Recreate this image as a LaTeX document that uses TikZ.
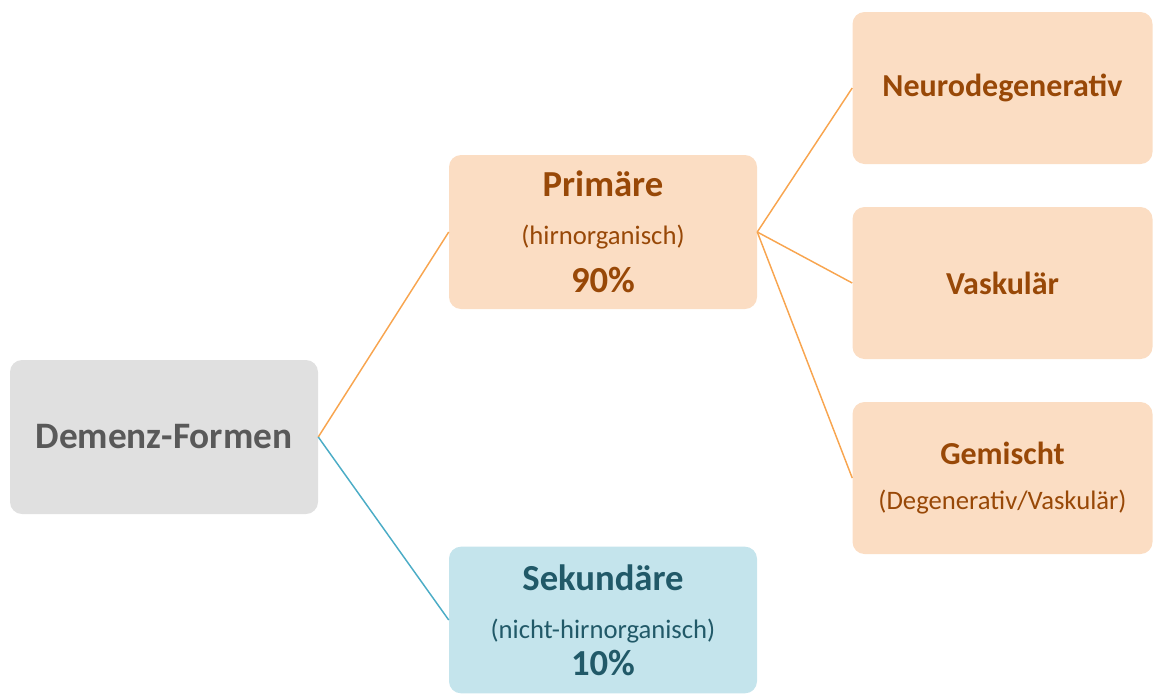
\documentclass[tikz,border=0pt]{standalone}
\usepackage{fontspec}
\setmainfont{Carlito}
\usetikzlibrary{positioning}
\definecolor{peach}{HTML}{FBDDC3}
\definecolor{peachtext}{HTML}{984807}
\definecolor{peachline}{HTML}{F8A54F}
\definecolor{skyfill}{HTML}{C4E4EC}
\definecolor{skytext}{HTML}{215968}
\definecolor{skyline}{HTML}{4BACC6}
\definecolor{greyfill}{HTML}{E0E0E0}
\definecolor{greytext}{HTML}{595959}
\tikzstyle{box} = [rounded corners=9pt, minimum width=231pt, minimum height=115.5pt, align=center, inner sep=0pt, font=\fontsize{20}{36}\selectfont]
\tikzstyle{subbox} = [box, fill=peach, text=peachtext, minimum width=225pt, minimum height=114pt, font=\fontsize{20}{34}\selectfont]
\tikzstyle{link} = [line width=1.1pt]

\begin{document}
\begin{tikzpicture}[x=0.75pt,y=-0.75pt]
\useasboundingbox (0,0) rectangle (1153,693);
\clip (0,0) rectangle (1153,693);
\node[box, fill=greyfill, text=greytext] (demenz) at (164,437) {{\fontsize{28}{32}\selectfont\bfseries Demenz-Formen}};
\node[box, fill=peach, text=peachtext] (prim) at (603,232)
  {{\fontsize{27.5}{32}\selectfont\bfseries Primäre}\\(hirnorganisch)\\{\fontsize{27.5}{32}\selectfont\bfseries 90\%}};
\node[box, fill=skyfill, text=skytext, minimum height=110pt] (sek) at (603,620)
  {{\fontsize{27.5}{32}\selectfont\bfseries Sekundäre}\\(nicht-hirnorganisch)\\[-8pt]{\fontsize{27.5}{32}\selectfont\bfseries 10\%}};
\node[subbox] (neuro) at (1002.5,88) {{\fontsize{24}{28}\selectfont\bfseries Neurodegenerativ}};
\node[subbox] (vask) at (1002.5,283) {{\fontsize{24}{28}\selectfont\bfseries Vaskulär}};
\node[subbox] (gem) at (1002.5,478) {{\fontsize{24}{28}\selectfont\bfseries Gemischt}\\(Degenerativ/Vaskulär)};
\draw[link, peachline] (demenz.east) -- (prim.west);
\draw[link, skyline] (demenz.east) -- (sek.west);
\foreach \n in {neuro, vask, gem}
  \draw[link, peachline] (prim.east) -- (\n.west);
\end{tikzpicture}
\end{document}
